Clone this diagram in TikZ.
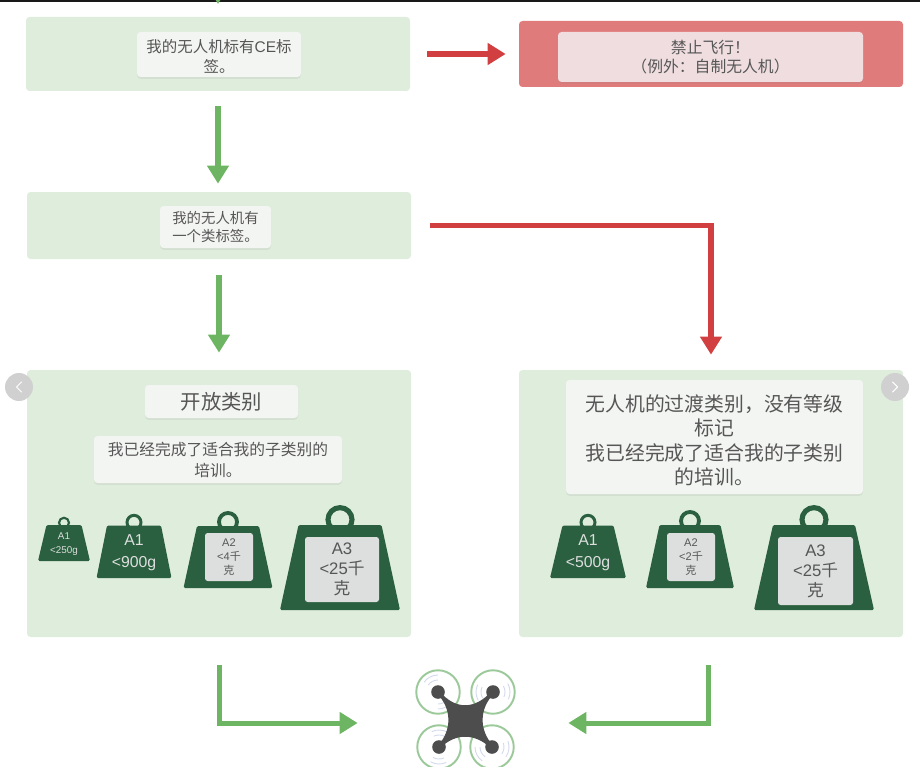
\documentclass[tikz,border=0pt]{standalone}
\usepackage{fontspec}
\setmainfont{Noto Sans CJK SC}
\newfontfamily\latf{Liberation Sans}
\newfontfamily\cjkf{Noto Sans CJK SC}
\usetikzlibrary{arrows.meta, calc, shadows}
\definecolor{panelc}{HTML}{DFEDDC}
\definecolor{redpanelc}{HTML}{E07B7B}
\definecolor{redlabelc}{HTML}{EFDDE0}
\definecolor{labelc}{HTML}{F3F5F2}
\definecolor{goc}{HTML}{6DB562}
\definecolor{stopc}{HTML}{D13F40}
\definecolor{weightc}{HTML}{2A5F3F}
\definecolor{platec}{HTML}{DCDFDE}
\definecolor{inkc}{HTML}{565656}
\definecolor{dronec}{HTML}{4D4D4D}
\definecolor{rotorc}{HTML}{9CC99A}
\definecolor{spinc}{HTML}{D3D9EC}
\definecolor{navc}{HTML}{D0D0D0}
\tikzset{
  panelbox/.style={rectangle, rounded corners=2pt, fill=#1, inner sep=0pt},
  labelbox/.style={rectangle, rounded corners=2pt, fill=#1, inner sep=0pt,
    align=center, text=inkc, drop shadow={shadow xshift=0pt, shadow yshift=-1pt, opacity=0.12}},
  goarrow/.style={draw=goc, line width=0.12cm, -{Triangle[length=0.36cm, width=0.42cm]}},
  stoparrow/.style={draw=stopc, line width=0.105cm, -{Triangle[length=0.36cm, width=0.42cm]}},
  navbtn/.style={circle, fill=navc, minimum size=0.56cm, inner sep=0pt},
  chevron/.style={draw=white, line width=0.6pt, line cap=round, line join=round},
}
% name, centre x, centre y, width, height, colour
\newcommand{\panel}[6]{%
  \node[panelbox=#6, minimum width=#4*0.02cm, minimum height=#5*0.02cm] (#1) at (#2,#3) {};
}
% name, centre x, centre y, width, height, colour, font size, leading, text
\newcommand{\tag}[9]{%
  \node[labelbox=#6, minimum width=#4*0.02cm, minimum height=#5*0.02cm,
        font=\fontsize{#7}{#8}\selectfont] (#1) at (#2,#3) {#9};
}
% name, centre x, top, bottom, top width, bottom width, ring radius
\newcommand{\weight}[7]{%
  \draw[weightc, line width=#7*0.0085cm] (#2,#3-#7*0.45) circle[radius=#7];
  \fill[weightc, rounded corners=0.8pt] (#2-#5/2,#3) -- (#2+#5/2,#3) -- (#2+#6/2,#4)
    -- (#2-#6/2,#4) -- cycle;
  \coordinate (#1) at (#2,#3);
}
% name, centre x, centre y, width, height, font size, leading, text
\newcommand{\plate}[8]{%
  \node[rectangle, rounded corners=1.5pt, fill=platec, text=inkc, inner sep=0pt, align=center,
        minimum width=#4*0.02cm, minimum height=#5*0.02cm,
        font=\latf\fontsize{#6}{#7}\selectfont] (#1) at (#2,#3) {#8};
}

\begin{document}
\begin{tikzpicture}[x=0.02cm, y=-0.02cm, >=Stealth]
  \useasboundingbox (0,0) rectangle (920,767);
  \fill[black!90] (0,0) rectangle (920,2.5);

  % question panels
  \panel{ce}{218}{54}{384}{74}{panelc}
  \panel{ban}{711}{54}{384}{66}{redpanelc}
  \panel{cls}{219}{225.5}{384}{67}{panelc}
  \panel{open}{219}{503.5}{384}{267}{panelc}
  \panel{trans}{711}{503.5}{384}{267}{panelc}

  \tag{cetxt}{219}{54.5}{164}{45}{labelc}{8.8}{11.2}{\rule{0pt}{9.6pt}我的无人机标有{\latf CE}标\\签。}
  \tag{bantxt}{710.5}{57}{305}{50}{redlabelc}{9}{11}{禁止飞行！\\（例外：自制无人机）}
  \tag{clstxt}{215.5}{227}{111}{42}{labelc}{8.2}{10}{我的无人机有\\一个类标签。}
  \tag{opentitle}{221.5}{401.5}{153}{33}{labelc}{11.6}{14}{开放类别}
  \tag{opentxt}{218}{459.5}{248}{47}{labelc}{8.95}{12}{我已经完成了适合我的子类别的\\培训。}
  \tag{transtxt}{714.5}{437}{297}{114}{labelc}{11.3}{14}{\rule{0pt}{13.4pt}无人机的过渡类别，没有等级\\标记\\我已经完成了适合我的子类别\\的培训。}

  % weights, open category
  \weight{wa}{64}{525}{561}{35}{52}{5}
  \node[text=platec, align=center, font=\latf\fontsize{5.6}{7.8}\selectfont] (watxt) at (64,544) {A1\\<250g};
  \weight{wb}{134}{525.5}{578}{54}{75}{7}
  \node[text=platec, align=center, font=\latf\fontsize{9}{12.4}\selectfont] (wbtxt) at (134,553) {A1\\<900g};
  \weight{wc}{228}{526}{588}{62}{89}{9}
  \plate{wctxt}{229}{557}{48}{48}{6.3}{8.2}{A2\\<4{\cjkf 千}\\{\cjkf 克}}
  \weight{wd}{340}{525}{610}{83}{120}{12}
  \plate{wdtxt}{342}{569.5}{74}{65}{9.5}{11.3}{A3\\<25{\cjkf 千}\\{\cjkf 克}}

  % weights, transitional category
  \weight{ra}{588}{525.5}{578}{51}{76}{7}
  \node[text=platec, align=center, font=\latf\fontsize{9}{12.4}\selectfont] (ratxt) at (588,553) {A1\\<500g};
  \weight{rb}{690}{525}{588}{61}{88}{9}
  \plate{rbtxt}{691}{557}{48}{48}{6.3}{8.2}{A2\\<2{\cjkf 千}\\{\cjkf 克}}
  \weight{rc}{814}{525}{610}{82}{120}{12}
  \plate{rctxt}{815.5}{571}{75}{68}{9.5}{11.3}{A3\\<25{\cjkf 千}\\{\cjkf 克}}

  % drone
  \node[minimum width=110*0.02cm, minimum height=80*0.02cm, inner sep=0pt] (drone) at (465,723) {};
  \foreach \n/\x/\y/\a/\b in {tl/438/692/215/35, tr/493/692/150/-30,
                              bl/439/747/245/65, br/492/747/125/-20} {
    \node[circle, draw=rotorc, line width=1.1pt, minimum size=0.87cm, inner sep=0pt] (rotor\n) at (\x,\y) {};
    \foreach \r in {12,17} {
      \draw[spinc, line width=0.5pt] ($(rotor\n)+(\a:\r)$) arc[start angle=\a, delta angle=55, radius=\r];
      \draw[spinc, line width=0.5pt] ($(rotor\n)+(\b:\r)$) arc[start angle=\b, delta angle=55, radius=\r];
    }
  }
  \fill[dronec, draw=dronec, line width=0.07cm, line join=round]
    (438,692) .. controls (454,712) and (476,712) .. (493,692)
    .. controls (477,708) and (477,731) .. (492,747)
    .. controls (476,731) and (454,731) .. (439,747)
    .. controls (454,731) and (454,708) .. (438,692) -- cycle;
  \foreach \n in {tl,tr,bl,br} \fill[dronec] (rotor\n) circle[radius=6.8];

  % connectors
  \coordinate (topin) at (218,-12);
  \coordinate (toptip) at (218,4);
  \path[goarrow, draw] (topin) -- (toptip);
  \draw[goarrow, shorten <=0.3cm, shorten >=0.16cm] (ce) -- (ce |- cls.north);
  \draw[goarrow, shorten <=0.32cm, shorten >=0.34cm] (cls) -- (open);
  \draw[stoparrow, shorten <=0.34cm, shorten >=0.26cm] (ce.east) -- (ban.west |- ce.east);
  \draw[stoparrow, shorten <=0.38cm, shorten >=0.3cm] (cls.east) -| (trans.north);
  \draw[goarrow, line width=0.1cm, shorten <=0.56cm, shorten >=1.04cm] (open.south) |- (drone.west);
  \draw[goarrow, line width=0.1cm, shorten <=0.56cm, shorten >=0.96cm] ($(trans.south)+(-3,0)$) |- (drone.east);

  % carousel buttons
  \node[navbtn] (prevbtn) at (19,387) {};
  \node[navbtn] (nextbtn) at (895,387) {};
  \draw[chevron] ($(prevbtn)+(2.5,-5)$) -- ($(prevbtn)+(-2.5,0)$) -- ($(prevbtn)+(2.5,5)$);
  \draw[chevron] ($(nextbtn)+(-2.5,-5)$) -- ($(nextbtn)+(2.5,0)$) -- ($(nextbtn)+(-2.5,5)$);
\end{tikzpicture}
\end{document}
